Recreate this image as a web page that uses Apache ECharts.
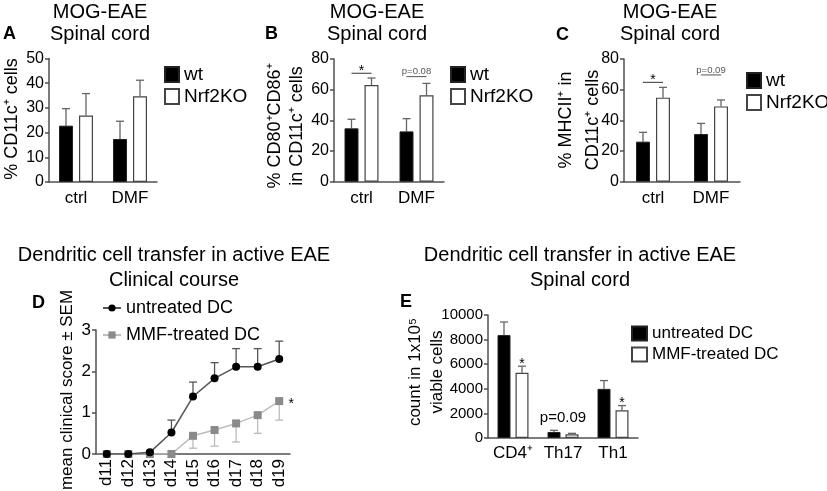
<!DOCTYPE html>
<html>
<head>
<meta charset="utf-8">
<script src="https://cdn.jsdelivr.net/npm/echarts@6/dist/echarts.min.js"></script>
<style>
  html, body { margin: 0; padding: 0; background: #fff; }
  #main { width: 827px; height: 491px; }
</style>
</head>
<body>
<div id="main"></div>
<script>
// ---- data ----
var groupCats = ['ctrl', 'DMF'];
// A: % CD11c+ cells
var cd11cWt = [22.8, 17.4];
var cd11cWtErr = [29.7, 24.6];
var cd11cKo = [26.9, 34.7];
var cd11cKoErr = [35.8, 41.2];
// B: % CD80+CD86+ in CD11c+
var cd8086Wt = [34.8, 32.8];
var cd8086WtErr = [40.7, 41.1];
var cd8086Ko = [63.0, 56.3];
var cd8086KoErr = [67.6, 64.1];
var sigBLevel = [70.7, 68.5];
var sigBText = ['*', 'p=0.08'];
// C: % MHCII+ in CD11c+
var mhcWt = [26.1, 31.1];
var mhcWtErr = [32.2, 38.0];
var mhcKo = [54.8, 49.1];
var mhcKoErr = [61.5, 53.3];
var sigCLevel = [64.8, 69.6];
var sigCText = ['*', 'p=0.09'];
// D: clinical course
var days = ['d11', 'd12', 'd13', 'd14', 'd15', 'd16', 'd17', 'd18', 'd19'];
var untreatedScore = [0, 0, 0.04, 0.52, 1.39, 1.83, 2.11, 2.11, 2.30];
var untreatedHigh = [0, 0, 0.04, 0.82, 1.74, 2.21, 2.55, 2.55, 2.73];
var mmfScore = [0, 0, 0, 0, 0.44, 0.58, 0.74, 0.94, 1.28];
var mmfLow = [0, 0, 0, 0, 0.14, 0.19, 0.29, 0.50, 0.82];
// E: spinal cord counts
var cellCats = ['CD4\u207a', 'Th17', 'Th1'];
var untreatedCount = [8370, 490, 3995];
var untreatedCountErr = [9430, 625, 4670];
var mmfCount = [5300, 300, 2255];
var mmfCountErr = [5840, 380, 2636];

var FONT = "'Liberation Sans', Arial, Helvetica, sans-serif";
var AXIS = '#505050';

function catAxis(g, cats, size, rotate, margin) {
    return {
        type: 'category', gridIndex: g, data: cats,
        axisLine: { lineStyle: { color: AXIS, width: 1.5 } },
        axisTick: { alignWithLabel: true, length: 4, lineStyle: { color: AXIS, width: 1.5 } },
        axisLabel: { color: '#000', fontSize: size, fontFamily: FONT, margin: margin, rotate: rotate || 0, interval: 0 }
    };
}
function valAxis(g, max, interval, size) {
    return {
        type: 'value', gridIndex: g, min: 0, max: max, interval: interval,
        splitLine: { show: false },
        axisLine: { show: true, lineStyle: { color: AXIS, width: 1.5 } },
        axisTick: { show: true, length: 4, lineStyle: { color: AXIS, width: 1.5 } },
        axisLabel: { color: '#000', fontSize: size, fontFamily: FONT, margin: 5,
                     formatter: function (v) { return String(v); } }
    };
}
function bar(g, name, vals, filled, w, gap) {
    return {
        type: 'bar', name: name, xAxisIndex: g, yAxisIndex: g, data: vals,
        barWidth: w, barGap: (gap / w * 100) + '%', z: 3,
        itemStyle: filled ? { color: '#000', borderColor: '#222', borderWidth: 1 }
                          : { color: '#fff', borderColor: '#444', borderWidth: 1.2 }
    };
}
// error bar from value to end, shifted dx pixels
function errBars(g, vals, ends, dx, color) {
    return {
        type: 'custom', xAxisIndex: g, yAxisIndex: g, z: 2, silent: true,
        data: vals.map(function (v, i) { return [i, v, ends[i]]; }),
        renderItem: function (params, api) {
            var a = api.coord([api.value(0), api.value(1)]);
            var b = api.coord([api.value(0), api.value(2)]);
            var x = a[0] + dx;
            if (Math.abs(a[1] - b[1]) < 0.5) return null;
            var st = { stroke: color, lineWidth: 1.3 };
            return { type: 'group', children: [
                { type: 'line', shape: { x1: x, y1: a[1], x2: x, y2: b[1] }, style: st },
                { type: 'line', shape: { x1: x - 4, y1: b[1], x2: x + 4, y2: b[1] }, style: st }
            ] };
        }
    };
}
// significance bracket over both bars of a group
function sigLines(g, levels, texts, half) {
    return {
        type: 'custom', xAxisIndex: g, yAxisIndex: g, z: 4, silent: true,
        data: levels.map(function (v, i) { return [i, v]; }),
        renderItem: function (params, api) {
            var p = api.coord([api.value(0), api.value(1)]);
            var t = texts[params.dataIndex];
            var star = t === '*';
            return { type: 'group', children: [
                { type: 'line', shape: { x1: p[0] - half, y1: p[1], x2: p[0] + half, y2: p[1] },
                  style: { stroke: star ? '#333' : '#555', lineWidth: 1 } },
                { type: 'text', x: p[0], y: star ? p[1] - 2 : p[1] - 5,
                  style: { text: t, fontFamily: FONT, fontSize: star ? 14 : 9.5, fill: star ? '#000' : '#555',
                           align: 'center', verticalAlign: 'middle', textAlign: 'center', textVerticalAlign: 'middle' } }
            ] };
        }
    };
}
// free text note anchored on data coordinates
function notes(g, cats, levels, texts, dx, dy, size) {
    return {
        type: 'custom', xAxisIndex: g, yAxisIndex: g, z: 4, silent: true,
        data: levels.map(function (v, i) { return [cats[i], v]; }),
        renderItem: function (params, api) {
            var p = api.coord([api.value(0), api.value(1)]);
            return { type: 'text', x: p[0] + dx, y: p[1] + dy,
                style: { text: texts[params.dataIndex], fontFamily: FONT, fontSize: size, fill: '#000',
                         align: 'center', verticalAlign: 'middle', textAlign: 'center', textVerticalAlign: 'middle' } };
        }
    };
}
function txt(x, y, s, size, opt) {
    opt = opt || {};
    return {
        type: 'text', x: x, y: y, rotation: opt.rot ? Math.PI / 2 : 0, silent: true,
        style: { text: s, fontFamily: FONT, fontSize: size, fontWeight: opt.bold ? 'bold' : 'normal', fill: '#000',
                 lineHeight: opt.lh || size * 1.2,
                 align: opt.align || 'center', verticalAlign: 'middle',
                 textAlign: opt.align || 'center', textVerticalAlign: 'middle' }
    };
}
function legendAt(left, top, names, size, opt) {
    var o = {
        left: left, top: top, orient: 'vertical', padding: 0, itemGap: 3,
        itemWidth: 14, itemHeight: 15, icon: 'rect', selectedMode: false,
        data: names, textStyle: { fontSize: size, color: '#000', fontFamily: FONT }
    };
    for (var k in opt) o[k] = opt[k];
    return o;
}

var chart = echarts.init(document.getElementById('main'));
var BW = 14, BG = 6, BWE = 13, BGE = 5;
var option = {
    animation: false,
    backgroundColor: '#fff',
    grid: [
        { left: 49, top: 58.5, width: 108, height: 123.5, containLabel: false, outerBoundsMode: 'none' },
        { left: 334, top: 59, width: 110, height: 122.7, containLabel: false, outerBoundsMode: 'none' },
        { left: 624, top: 59, width: 116, height: 122.7, containLabel: false, outerBoundsMode: 'none' },
        { left: 96, top: 330, width: 194, height: 124, containLabel: false, outerBoundsMode: 'none' },
        { left: 488, top: 315, width: 150, height: 123, containLabel: false, outerBoundsMode: 'none' }
    ],
    xAxis: [
        catAxis(0, groupCats, 17, 0, 8),
        catAxis(1, groupCats, 17, 0, 8),
        catAxis(2, groupCats, 17, 0, 8),
        catAxis(3, days, 17, 90, 5),
        catAxis(4, cellCats, 17, 0, 7)
    ],
    yAxis: [
        valAxis(0, 50, 10, 16),
        valAxis(1, 80, 20, 16),
        valAxis(2, 80, 20, 16),
        valAxis(3, 3, 1, 17),
        valAxis(4, 10000, 2000, 15)
    ],
    legend: [
        legendAt(164, 65, ['wt', 'Nrf2KO'], 19),
        legendAt(450, 65, ['wt', 'Nrf2KO'], 19),
        legendAt(746, 71, ['wt', 'Nrf2KO'], 19),
        legendAt(102, 299, ['untreated DC', 'MMF-treated DC'], 18,
            { icon: null, itemWidth: 18, itemHeight: 9, itemGap: 9 }),
        legendAt(631, 325, ['untreated DC|E', 'MMF-treated DC|E'], 17,
            { itemWidth: 15, itemHeight: 14, itemGap: 4,
              formatter: function (n) { return n.split('|')[0]; } })
    ],
    series: [
        bar(0, 'wt', cd11cWt, true, BW, BG),
        bar(0, 'Nrf2KO', cd11cKo, false, BW, BG),
        errBars(0, cd11cWt, cd11cWtErr, -(BW + BG) / 2, '#666'),
        errBars(0, cd11cKo, cd11cKoErr, (BW + BG) / 2, '#666'),

        bar(1, 'wt', cd8086Wt, true, BW, BG),
        bar(1, 'Nrf2KO', cd8086Ko, false, BW, BG),
        errBars(1, cd8086Wt, cd8086WtErr, -(BW + BG) / 2, '#666'),
        errBars(1, cd8086Ko, cd8086KoErr, (BW + BG) / 2, '#666'),
        sigLines(1, sigBLevel, sigBText, 10),

        bar(2, 'wt', mhcWt, true, BW, BG),
        bar(2, 'Nrf2KO', mhcKo, false, BW, BG),
        errBars(2, mhcWt, mhcWtErr, -(BW + BG) / 2, '#666'),
        errBars(2, mhcKo, mhcKoErr, (BW + BG) / 2, '#666'),
        sigLines(2, sigCLevel, sigCText, 10),

        errBars(3, mmfScore, mmfLow, 0, '#bbb'),
        {
            type: 'line', name: 'MMF-treated DC', xAxisIndex: 3, yAxisIndex: 3, data: mmfScore,
            symbol: 'rect', symbolSize: 8, z: 3,
            lineStyle: { color: '#bdbdbd', width: 1.5 }, itemStyle: { color: '#8a8a8a' }
        },
        errBars(3, untreatedScore, untreatedHigh, 0, '#555'),
        {
            type: 'line', name: 'untreated DC', xAxisIndex: 3, yAxisIndex: 3, data: untreatedScore,
            symbol: 'circle', symbolSize: 8, z: 4,
            lineStyle: { color: '#555', width: 1.5 }, itemStyle: { color: '#000' }
        },
        notes(3, [8], [mmfScore[8]], ['*'], 12, 3, 14),

        bar(4, 'untreated DC|E', untreatedCount, true, BWE, BGE),
        bar(4, 'MMF-treated DC|E', mmfCount, false, BWE, BGE),
        errBars(4, untreatedCount, untreatedCountErr, -(BWE + BGE) / 2, '#666'),
        errBars(4, mmfCount, mmfCountErr, (BWE + BGE) / 2, '#666'),
        notes(4, [0, 2], [mmfCountErr[0], mmfCountErr[2]], ['*', '*'], (BWE + BGE) / 2, -2, 14),
        notes(4, [1], [untreatedCountErr[1]], ['p=0.09'], 0, -12, 15)
    ],
    graphic: [
        txt(100, 12, 'MOG-EAE', 20), txt(100, 34, 'Spinal cord', 20),
        txt(377, 12, 'MOG-EAE', 20), txt(377, 34, 'Spinal cord', 20),
        txt(670, 12, 'MOG-EAE', 20), txt(670, 34, 'Spinal cord', 20),
        txt(174, 255, 'Dendritic cell transfer in active EAE', 20), txt(174, 280, 'Clinical course', 20),
        txt(580, 255, 'Dendritic cell transfer in active EAE', 20), txt(580, 280, 'Spinal cord', 20),

        txt(3, 34, 'A', 18, { bold: true, align: 'left' }),
        txt(265, 34, 'B', 18, { bold: true, align: 'left' }),
        txt(556, 35, 'C', 18, { bold: true, align: 'left' }),
        txt(32, 303, 'D', 18, { bold: true, align: 'left' }),
        txt(400, 302, 'E', 18, { bold: true, align: 'left' }),

        txt(12, 119, '% CD11c\u207a cells', 18, { rot: true }),
        txt(286, 126, '% CD80\u207aCD86\u207a\nin CD11c\u207a cells', 18, { rot: true, lh: 22 }),
        txt(580, 120, '% MHCII\u207a in\nCD11c\u207a cells', 18, { rot: true, lh: 27 }),
        txt(67, 390, 'mean clinical score \u00b1 SEM', 17, { rot: true }),
        txt(426, 372, 'count in 1x10\u2075\nviable cells', 17, { rot: true, lh: 22 })
    ]
};
chart.setOption(option);
</script>
</body>
</html>
